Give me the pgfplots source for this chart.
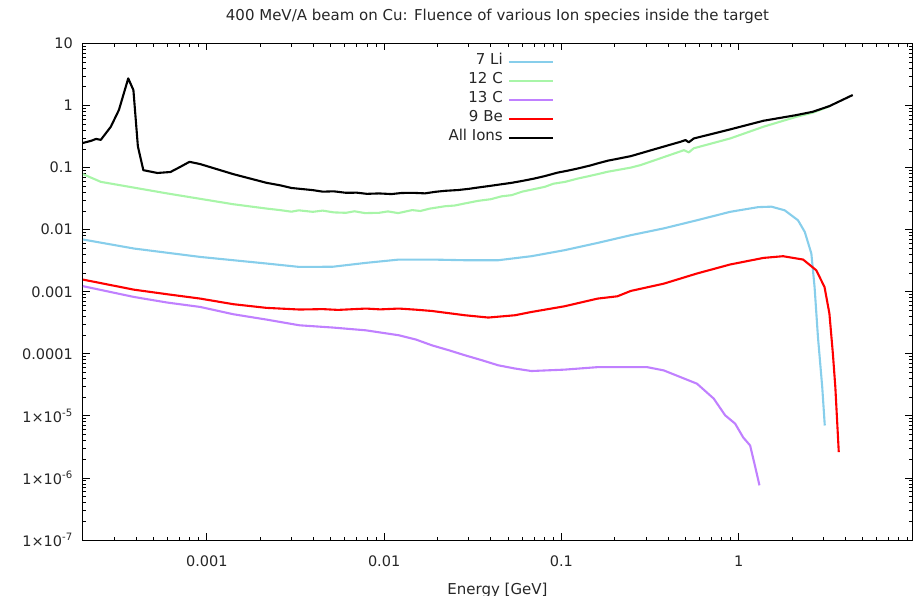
\documentclass[border=0pt]{standalone}
\usepackage{fontspec}
\setmainfont{DejaVu Sans}
\usepackage{pgfplots}
\pgfplotsset{compat=1.18}
\definecolor{cLi}{HTML}{87CEEB}
\definecolor{cCtw}{HTML}{A8F5A8}
\definecolor{cCth}{HTML}{C080FF}
\definecolor{cBe}{HTML}{FF0000}
\begin{document}
\fontsize{14}{17}\selectfont
\begin{tikzpicture}
\useasboundingbox (-83pt,-56pt) rectangle (832pt,540pt);
\begin{axis}[
  scale only axis, width=829pt, height=496.5pt,
  xmode=log, ymode=log,
  xmin=2e-4, xmax=9.5, ymin=1e-7, ymax=10,
  xtick={0.001,0.01,0.1,1}, xticklabels={0.001,0.01,0.1,1},
  ytick={1e-7,1e-6,1e-5,1e-4,1e-3,1e-2,0.1,1,10},
  yticklabels={1×10\textsuperscript{-7},1×10\textsuperscript{-6},1×10\textsuperscript{-5},0.0001,0.001,0.01,0.1,1,10},
  minor xtick={3e-4,4e-4,5e-4,6e-4,7e-4,8e-4,9e-4,2e-3,3e-3,4e-3,5e-3,6e-3,7e-3,8e-3,9e-3,0.02,0.03,0.04,0.05,0.06,0.07,0.08,0.09,0.2,0.3,0.4,0.5,0.6,0.7,0.8,0.9,2,3,4,5,6,7,8,9},
  minor ytick={2e-7,3e-7,4e-7,5e-7,6e-7,7e-7,8e-7,9e-7,2e-6,3e-6,4e-6,5e-6,6e-6,7e-6,8e-6,9e-6,2e-5,3e-5,4e-5,5e-5,6e-5,7e-5,8e-5,9e-5,2e-4,3e-4,4e-4,5e-4,6e-4,7e-4,8e-4,9e-4,2e-3,3e-3,4e-3,5e-3,6e-3,7e-3,8e-3,9e-3,0.02,0.03,0.04,0.05,0.06,0.07,0.08,0.09,0.2,0.3,0.4,0.5,0.6,0.7,0.8,0.9,2,3,4,5,6,7,8,9},
  major tick length=7pt, minor tick length=3.5pt,
  every tick/.style={black, line width=0.8pt},
  axis line style={line width=1pt, black},
  tick label style={font=\fontsize{14.5}{17}\selectfont, text=black!85},
  xticklabel style={anchor=north, inner sep=0pt, yshift=-15.5pt},
  yticklabel style={anchor=east, inner sep=0pt, xshift=-10pt},
  title={400 MeV/A beam on Cu: Fluence of various Ion species inside the target},
  title style={at={(axis description cs:0.5,1)}, anchor=center, yshift=21pt, font=\fontsize{15}{18}\selectfont, text=black!85},
  xlabel={Energy [GeV]},
  xlabel style={at={(axis description cs:0.5,0)}, anchor=center, yshift=-50pt, font=\fontsize{15}{18}\selectfont, text=black!85},
  legend plot pos=right, legend cell align=right,
  legend style={draw=none, fill=none, at={(axis description cs:0.572,0.987)}, anchor=north east,
    font=\fontsize{15}{18}\selectfont, text=black!85, row sep=0pt, column sep=3pt,
    nodes={inner sep=2pt, text height=10.5pt, text depth=4.5pt}},
  legend image code/.code={\draw[#1, line width=2.2pt] (0pt,0pt) -- (44pt,0pt);},
  every axis plot/.append style={line width=2.1pt, line join=round},
]
\addplot[cLi] coordinates {
(2.0e-4,0.00695)(3.88e-4,0.00497)(9.17e-4,0.00364)(2.17e-3,0.00285)(3.33e-3,0.00251)(5.13e-3,0.00253)(7.89e-3,0.00292)(0.0121,0.0033)(0.0186,0.0033)(0.0286,0.00322)(0.044,0.00322)(0.0677,0.00374)(0.104,0.00467)(0.160,0.00612)(0.246,0.00815)(0.378,0.0105)(0.582,0.0142)(0.895,0.0194)(1.29,0.0231)(1.53,0.0235)(1.82,0.0205)(2.16,0.0142)(2.36,0.0092)(2.57,0.00413)(2.68,0.00119)(2.80,1.87e-4)(2.96,2.92e-5)(3.06,7.0e-6)
};
\addlegendentry{7 Li}
\addplot[cCtw] coordinates {
(2.0e-4,0.0785)(2.52e-4,0.059)(5.97e-4,0.0384)(1.41e-3,0.0257)(2.17e-3,0.0219)(2.58e-3,0.0207)(3.0e-3,0.0195)(3.3e-3,0.0205)(3.96e-3,0.0194)(4.5e-3,0.0203)(5.2e-3,0.019)(6.09e-3,0.0187)(6.8e-3,0.0198)(7.8e-3,0.0185)(9.35e-3,0.0187)(0.0105,0.0197)(0.012,0.0185)(0.0144,0.0207)(0.016,0.0200)(0.018,0.0218)(0.0221,0.0239)(0.025,0.0245)(0.028,0.0262)(0.034,0.0292)(0.040,0.031)(0.046,0.0345)(0.0524,0.036)(0.060,0.041)(0.070,0.045)(0.0805,0.049)(0.090,0.055)(0.105,0.059)(0.124,0.0668)(0.140,0.072)(0.160,0.0785)(0.182,0.0857)(0.246,0.100)(0.280,0.110)(0.491,0.191)(0.523,0.176)(0.558,0.205)(0.895,0.295)(1.38,0.456)(2.12,0.66)(2.62,0.768)(3.25,0.97)
};
\addlegendentry{12 C}
\addplot[cCth] coordinates {
(2.0e-4,0.00123)(3.88e-4,0.000824)(5.97e-4,0.00067)(9.17e-4,0.000569)(1.41e-3,0.000434)(2.17e-3,0.000356)(3.33e-3,0.000288)(5.13e-3,0.000265)(7.89e-3,0.000239)(0.0121,0.000199)(0.0151,0.00017)(0.0186,0.000137)(0.0232,1.14e-4)(0.0286,9.46e-5)(0.0355,7.9e-5)(0.044,6.53e-5)(0.0546,5.8e-5)(0.0677,5.28e-5)(0.104,5.56e-5)(0.160,6.1e-5)(0.246,6.1e-5)(0.305,6.1e-5)(0.378,5.4e-5)(0.582,3.3e-5)(0.723,1.9e-5)(0.839,1.02e-5)(0.955,7.5e-6)(1.06,4.5e-6)(1.16,3.34e-6)(1.24,1.5e-6)(1.31,7.6e-7)
};
\addlegendentry{13 C}
\addplot[cBe] coordinates {
(2.0e-4,0.00157)(3.88e-4,0.00108)(5.97e-4,0.000912)(9.17e-4,0.000776)(1.41e-3,0.00063)(2.17e-3,0.00055)(3.33e-3,0.000517)(4.5e-3,0.000525)(5.5e-3,0.000510)(7.89e-3,0.000536)(0.0095,0.000520)(0.0121,0.000536)(0.0150,0.000515)(0.0186,0.00049)(0.0286,0.000418)(0.0387,0.000384)(0.0546,0.000418)(0.0677,0.000472)(0.104,0.000583)(0.160,0.000776)(0.207,0.000845)(0.246,0.00103)(0.378,0.00135)(0.582,0.00197)(0.895,0.00275)(1.38,0.00351)(1.78,0.00374)(2.31,0.0033)(2.74,0.00222)(3.05,0.00119)(3.25,0.000445)(3.40,1.0e-4)(3.51,2.9e-5)(3.67,2.6e-6)
};
\addlegendentry{9 Be}
\addplot[black] coordinates {
(2.0e-4,0.25)(2.22e-4,0.27)(2.37e-4,0.29)(2.52e-4,0.28)(2.87e-4,0.455)(3.19e-4,0.85)(3.60e-4,2.74)(3.85e-4,1.78)(4.08e-4,0.22)(4.38e-4,0.091)(5.25e-4,0.082)(6.23e-4,0.085)(7.08e-4,0.103)(7.98e-4,0.124)(9.17e-4,0.114)(1.41e-3,0.0785)(2.17e-3,0.0569)(2.58e-3,0.052)(3.0e-3,0.047)(3.96e-3,0.0434)(4.5e-3,0.041)(5.2e-3,0.0415)(6.09e-3,0.0393)(7.0e-3,0.0395)(8.0e-3,0.0378)(9.35e-3,0.0384)(0.011,0.0375)(0.0125,0.039)(0.0144,0.0393)(0.017,0.0385)(0.0195,0.0408)(0.0221,0.0423)(0.026,0.0435)(0.030,0.0455)(0.034,0.0479)(0.040,0.051)(0.046,0.054)(0.0524,0.0569)(0.060,0.061)(0.070,0.0665)(0.0805,0.073)(0.095,0.083)(0.110,0.090)(0.124,0.097)(0.145,0.108)(0.160,0.117)(0.182,0.129)(0.246,0.153)(0.350,0.205)(0.470,0.261)(0.501,0.278)(0.523,0.256)(0.558,0.295)(0.895,0.413)(1.38,0.569)(2.12,0.703)(2.62,0.795)(3.25,0.98)(4.40,1.48)
};
\addlegendentry{All Ions}
\end{axis}
\end{tikzpicture}
\end{document}
